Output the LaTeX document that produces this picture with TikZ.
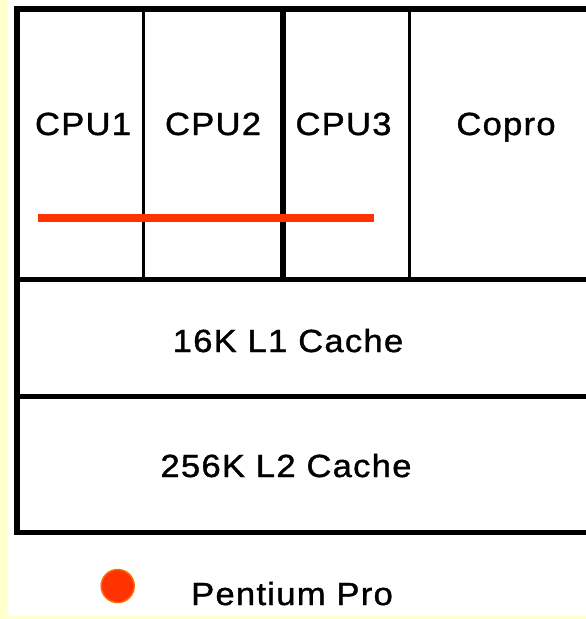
\documentclass[tikz,border=0pt]{standalone}
\usepackage{fontspec}
\setmainfont{Liberation Sans}
\newfontfamily\chipfont[LetterSpace=4, FakeStretch=1.08, FakeBold=1.2]{Liberation Sans}
\definecolor{ppyellow}{HTML}{FFFFCC}
\definecolor{ppred}{HTML}{FF3300}
\definecolor{pporange}{HTML}{FF6A00}
\tikzset{
  chipLabel/.style={font=\chipfont\fontsize{32}{36}\selectfont, inner sep=0pt, anchor=base},
  thickRule/.style={line width=5.5pt, draw=black},
  thinRule/.style={line width=3pt, draw=black},
  busLine/.style={line width=8pt, draw=ppred},
  legendDot/.style={circle, fill=ppred, draw=pporange, line width=1.5pt, minimum size=33pt, inner sep=0pt}
}

\begin{document}
\begin{tikzpicture}[x=1pt, y=-1pt]
  \useasboundingbox (0,0) rectangle (586,619);
  \fill[ppyellow] (0,0) rectangle (586,619);
  \fill[white] (8,0) rectangle (586,616);
  % chip outline and rows
  \draw[thickRule] (17,9) rectangle (600,532.5);
  \draw[thickRule] (17,279.5) -- (600,279.5);
  \draw[thickRule] (17,396.5) -- (600,396.5);
  % unit columns
  \draw[thinRule] (143.5,9) -- (143.5,279.5);
  \draw[thickRule] (283,9) -- (283,279.5);
  \draw[thinRule] (409.5,9) -- (409.5,279.5);
  \node[chipLabel] (cpuA) at (83,135) {CPU1};
  \node[chipLabel] (cpuB) at (213,135) {CPU2};
  \node[chipLabel] (cpuC) at (343.5,135) {CPU3};
  \node[chipLabel] (copro) at (506,135) {Copro};
  \draw[busLine] (38,218) -- (374,218);
  \node[chipLabel] (levelA) at (288,352) {16K L1 Cache};
  \node[chipLabel] (levelB) at (286,477) {256K L2 Cache};
  % legend
  \node[legendDot] (dot) at (117.7,586) {};
  \node[chipLabel] (legend) at (292,605) {Pentium Pro};
\end{tikzpicture}
\end{document}
